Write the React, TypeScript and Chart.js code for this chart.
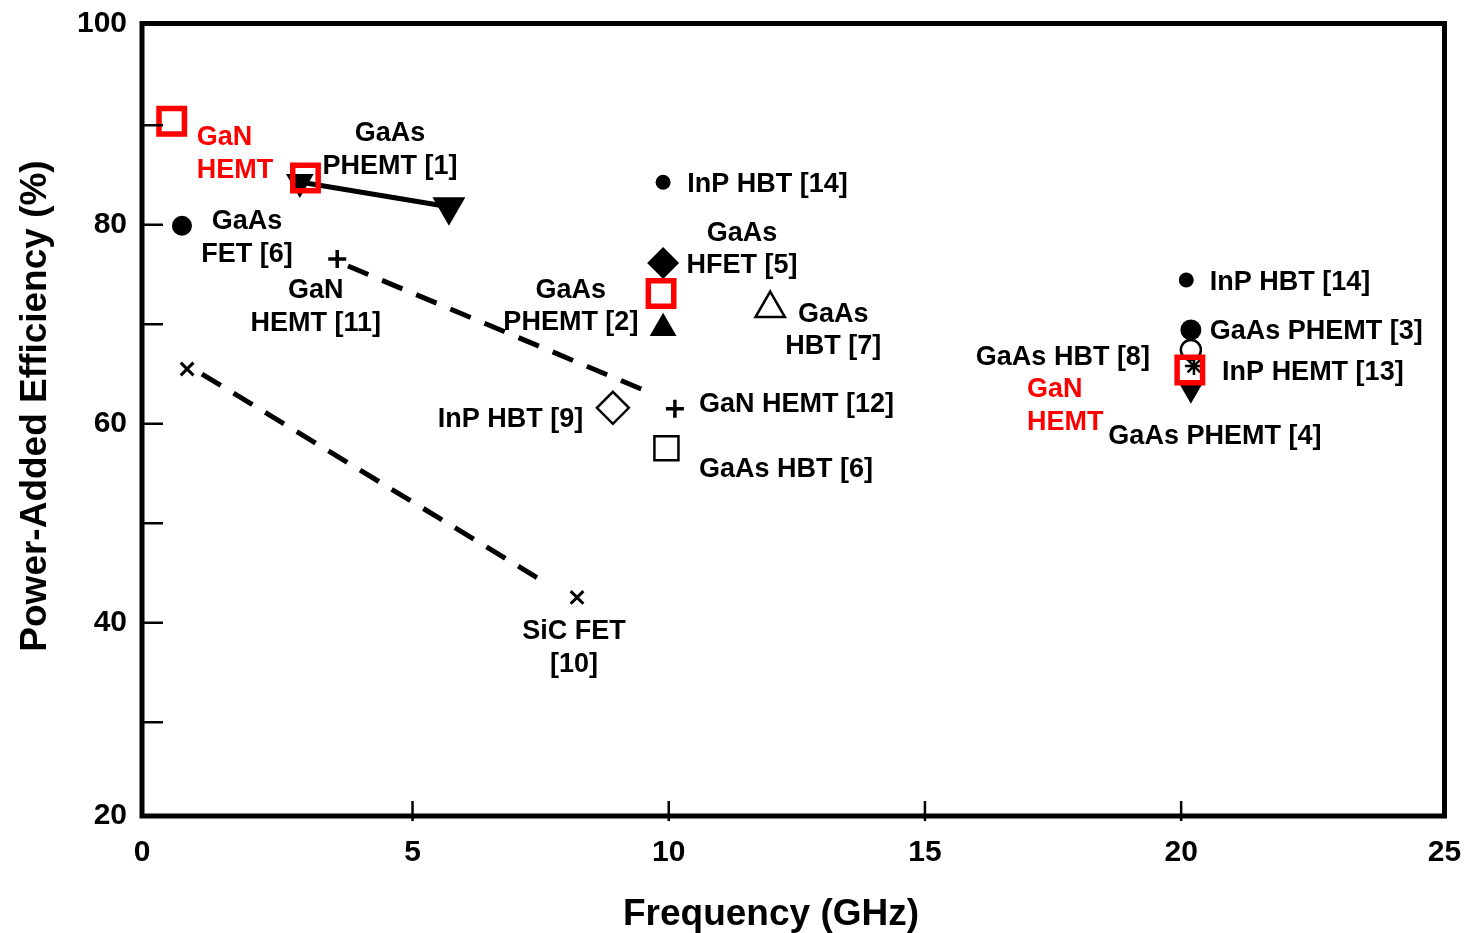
import { useEffect, useRef } from 'react';
import { Chart, registerables } from 'chart.js';

Chart.register(...registerables);

const FONT = '"Liberation Sans", Arial, Helvetica, sans-serif';
const RED = '#ff0000';
const BLACK = '#000000';

// Axis extents (frequency in GHz, efficiency in %)
const X_MIN = -0.28;
const X_MAX = 25.14;
const Y_MIN = 20.59;
const Y_MAX = 100.22;

// Tick marks and tick labels
const xTickMarks = [5, 10, 15, 20];
const yTickMarks = [30, 40, 50, 60, 70, 80, 90];
const xLabelValues = [X_MIN, 5, 10, 15, 20, X_MAX];
const xLabelTexts = ['0', '5', '10', '15', '20', '25'];
const yLabelValues = [Y_MIN, 40, 60, 80, Y_MAX];
const yLabelTexts = ['20', '40', '60', '80', '100'];

// GaN HEMT (this work)
const ganHemtFreq = [0.3, 2.91, 9.85, 20.17];
const ganHemtPae = [90.4, 84.7, 73.1, 65.4];

// Reference devices
const gaasPhemt1Freq = [2.8, 5.71];
const gaasPhemt1Pae = [84.3, 81.8];
const gaasFet6Freq = [0.5];
const gaasFet6Pae = [79.9];
const ganHemt11Freq = [3.53];
const ganHemt11Pae = [76.55];
const ganHemt12Freq = [10.12];
const ganHemt12Pae = [61.5];
const sicFet10Freq = [0.6, 8.21];
const sicFet10Pae = [65.5, 42.55];
const inpHbt14Freq = [9.89, 20.1];
const inpHbt14Pae = [84.27, 74.44];
const gaasHfet5Freq = [9.89];
const gaasHfet5Pae = [76.15];
const gaasPhemt2Freq = [9.89];
const gaasPhemt2Pae = [69.6];
const inpHbt9Freq = [8.91];
const inpHbt9Pae = [61.6];
const gaasHbt6Freq = [9.955];
const gaasHbt6Pae = [57.54];
const gaasHbt7Freq = [11.98];
const gaasHbt7Pae = [71.58];
const gaasPhemt3Freq = [20.19];
const gaasPhemt3Pae = [69.43];
const gaasHbt8Freq = [20.19];
const gaasHbt8Pae = [67.42];
const inpHemt13Freq = [20.25];
const inpHemt13Pae = [65.8];
const gaasPhemt4Freq = [20.19];
const gaasPhemt4Pae = [63.41];

// Dashed trend lines
const ganTrendFreq = [3.74, 9.55];
const ganTrendPae = [75.85, 63.3];
const sicTrendFreq = [0.89, 7.62];
const sicTrendPae = [65.0, 43.95];

// Text annotations, anchored in data units
type Note = { lines: string[]; x: number; y: number; align: CanvasTextAlign; color?: string };
const notes: Note[] = [
  { lines: ['GaN', 'HEMT'], x: 0.79, y: 88.98, align: 'left', color: RED },
  { lines: ['GaAs', 'PHEMT [1]'], x: 4.56, y: 89.38, align: 'center' },
  { lines: ['GaAs', 'FET [6]'], x: 1.77, y: 80.51, align: 'center' },
  { lines: ['GaN', 'HEMT [11]'], x: 3.11, y: 73.59, align: 'center' },
  { lines: ['InP HBT [14]'], x: 10.36, y: 84.27, align: 'left' },
  { lines: ['GaAs', 'HFET [5]'], x: 11.43, y: 79.36, align: 'center' },
  { lines: ['GaAs', 'PHEMT [2]'], x: 8.09, y: 73.64, align: 'center' },
  { lines: ['GaAs', 'HBT [7]'], x: 13.21, y: 71.23, align: 'center' },
  { lines: ['InP HBT [9]'], x: 8.33, y: 60.6, align: 'right' },
  { lines: ['GaN HEMT [12]'], x: 10.59, y: 62.11, align: 'left' },
  { lines: ['GaAs HBT [6]'], x: 10.59, y: 55.59, align: 'left' },
  { lines: ['SiC FET', '[10]'], x: 8.15, y: 39.34, align: 'center' },
  { lines: ['InP HBT [14]'], x: 20.56, y: 74.44, align: 'left' },
  { lines: ['GaAs PHEMT [3]'], x: 20.56, y: 69.48, align: 'left' },
  { lines: ['GaAs HBT [8]'], x: 19.39, y: 66.92, align: 'right' },
  { lines: ['InP HEMT [13]'], x: 20.8, y: 65.42, align: 'left' },
  { lines: ['GaN', 'HEMT'], x: 16.99, y: 63.66, align: 'left', color: RED },
  { lines: ['GaAs PHEMT [4]'], x: 18.58, y: 58.9, align: 'left' },
];

const pts = (xs: number[], ys: number[]) => xs.map((x, i) => ({ x, y: ys[i] }));

type MarkerStyle = {
  style: string;
  radius: number | number[];
  fill?: string;
  stroke?: string;
  width?: number;
  rotation?: number;
};

const markers = (label: string, xs: number[], ys: number[], m: MarkerStyle) => ({
  label,
  data: pts(xs, ys),
  showLine: false,
  pointStyle: m.style,
  pointRadius: m.radius,
  pointRotation: m.rotation ?? 0,
  pointBackgroundColor: m.fill ?? BLACK,
  pointBorderColor: m.stroke ?? BLACK,
  pointBorderWidth: m.width ?? 0,
});

const dashedLine = (label: string, xs: number[], ys: number[]) => ({
  label,
  data: pts(xs, ys),
  showLine: true,
  pointRadius: 0,
  borderColor: BLACK,
  borderWidth: 5,
  borderDash: [22, 15],
  borderCapStyle: 'butt',
  fill: false,
  tension: 0,
});

const datasets: any[] = [
  markers('GaN HEMT', ganHemtFreq, ganHemtPae, {
    style: 'rect', radius: 18, fill: 'rgba(0,0,0,0)', stroke: RED, width: 5.5,
  }),
  {
    ...markers('GaAs PHEMT [1]', gaasPhemt1Freq, gaasPhemt1Pae, {
      style: 'triangle', radius: [16, 19], rotation: 180,
    }),
    showLine: true,
    borderColor: BLACK,
    borderWidth: 5,
    tension: 0,
    fill: false,
  },
  markers('GaAs FET [6]', gaasFet6Freq, gaasFet6Pae, { style: 'circle', radius: 10 }),
  markers('GaN HEMT [11]', ganHemt11Freq, ganHemt11Pae, { style: 'cross', radius: 9, width: 3.5 }),
  markers('GaN HEMT [12]', ganHemt12Freq, ganHemt12Pae, { style: 'cross', radius: 9, width: 3.5 }),
  markers('SiC FET [10]', sicFet10Freq, sicFet10Pae, { style: 'crossRot', radius: 9, width: 3 }),
  markers('InP HBT [14]', inpHbt14Freq, inpHbt14Pae, { style: 'circle', radius: 7.5 }),
  markers('GaAs HFET [5]', gaasHfet5Freq, gaasHfet5Pae, { style: 'rectRot', radius: 16 }),
  markers('GaAs PHEMT [2]', gaasPhemt2Freq, gaasPhemt2Pae, { style: 'triangle', radius: 15.5 }),
  markers('InP HBT [9]', inpHbt9Freq, inpHbt9Pae, {
    style: 'rectRot', radius: 16, fill: '#ffffff', width: 2.5,
  }),
  markers('GaAs HBT [6]', gaasHbt6Freq, gaasHbt6Pae, {
    style: 'rect', radius: 17, fill: '#ffffff', width: 2.5,
  }),
  markers('GaAs HBT [7]', gaasHbt7Freq, gaasHbt7Pae, {
    style: 'triangle', radius: 17, fill: '#ffffff', width: 2.5,
  }),
  markers('GaAs PHEMT [3]', gaasPhemt3Freq, gaasPhemt3Pae, { style: 'circle', radius: 10.5 }),
  markers('GaAs HBT [8]', gaasHbt8Freq, gaasHbt8Pae, {
    style: 'circle', radius: 10, fill: '#ffffff', width: 2.5,
  }),
  markers('InP HEMT [13]', inpHemt13Freq, inpHemt13Pae, { style: 'star', radius: 9, width: 2.5 }),
  markers('GaAs PHEMT [4]', gaasPhemt4Freq, gaasPhemt4Pae, {
    style: 'triangle', radius: 14, rotation: 180,
  }),
  dashedLine('GaN HEMT trend', ganTrendFreq, ganTrendPae),
  dashedLine('SiC FET trend', sicTrendFreq, sicTrendPae),
];

// Frame, inward tick marks, axis titles and point annotations
const decorations = {
  id: 'decorations',
  afterDatasetsDraw(chart: any) {
    const { ctx, chartArea: a, scales } = chart;
    const xs = scales.x;
    const ys = scales.y;
    ctx.save();
    ctx.strokeStyle = BLACK;
    ctx.lineCap = 'butt';

    ctx.lineWidth = 2.5;
    ctx.beginPath();
    xTickMarks.forEach((v) => {
      const px = xs.getPixelForValue(v);
      ctx.moveTo(px, a.bottom + 5);
      ctx.lineTo(px, a.bottom - 15);
    });
    yTickMarks.forEach((v) => {
      const py = ys.getPixelForValue(v);
      ctx.moveTo(a.left, py);
      ctx.lineTo(a.left + 21, py);
    });
    ctx.stroke();

    ctx.lineWidth = 5;
    ctx.lineJoin = 'miter';
    ctx.strokeRect(a.left, a.top, a.right - a.left, a.bottom - a.top);

    const size = 27;
    ctx.font = `bold ${size}px ${FONT}`;
    ctx.textBaseline = 'alphabetic';
    notes.forEach((n) => {
      const px = xs.getPixelForValue(n.x);
      const py = ys.getPixelForValue(n.y);
      ctx.fillStyle = n.color ?? BLACK;
      ctx.textAlign = n.align;
      n.lines.forEach((t, i) => {
        ctx.fillText(t, px, py + i * 32.5 + size * 0.358);
      });
    });

    const tsize = 37;
    ctx.fillStyle = BLACK;
    ctx.font = `bold ${tsize}px ${FONT}`;
    ctx.textAlign = 'center';
    ctx.fillText('Frequency (GHz)', 771, 912 + tsize * 0.358);

    ctx.translate(33, 406);
    ctx.rotate(-Math.PI / 2);
    ctx.fillText('Power-Added Efficiency (%)', 0, tsize * 0.358);
    ctx.restore();
  },
};

const tickFont = { family: FONT, size: 30, weight: 'bold' as const };

export default function App() {
  const ref = useRef<HTMLCanvasElement>(null);

  useEffect(() => {
    if (!ref.current) return;
    const chart = new Chart(ref.current, {
      type: 'scatter',
      data: { datasets },
      options: {
        animation: false,
        responsive: false,
        devicePixelRatio: 1,
        events: [],
        layout: { padding: { top: 22, right: 29.5, left: 0, bottom: 0 } },
        plugins: { legend: { display: false }, tooltip: { enabled: false } },
        scales: {
          x: {
            type: 'linear',
            min: X_MIN,
            max: X_MAX,
            grid: { display: false, drawTicks: false },
            border: { display: false },
            afterBuildTicks: (s: any) => {
              s.ticks = xLabelValues.map((value) => ({ value }));
            },
            afterFit: (s: any) => {
              s.height = 117;
              s.paddingLeft = 0;
              s.paddingRight = 0;
              s.paddingTop = 0;
              s.paddingBottom = 0;
            },
            ticks: {
              autoSkip: false,
              maxRotation: 0,
              padding: 19,
              color: BLACK,
              font: tickFont,
              callback: (v: any) => xLabelTexts[xLabelValues.indexOf(Number(v))] ?? '',
            },
          },
          y: {
            type: 'linear',
            min: Y_MIN,
            max: Y_MAX,
            grid: { display: false, drawTicks: false },
            border: { display: false },
            afterBuildTicks: (s: any) => {
              s.ticks = yLabelValues.map((value) => ({ value }));
            },
            afterFit: (s: any) => {
              s.width = 142;
              s.paddingLeft = 0;
              s.paddingRight = 0;
              s.paddingTop = 0;
              s.paddingBottom = 0;
            },
            ticks: {
              autoSkip: false,
              padding: 15,
              color: BLACK,
              font: tickFont,
              callback: (v: any) => yLabelTexts[yLabelValues.indexOf(Number(v))] ?? '',
            },
          },
        },
      },
      plugins: [decorations],
    } as any);
    return () => chart.destroy();
  }, []);

  return (
    <div style={{ position: 'absolute', left: 0, top: 0, width: 1474, height: 933, background: '#ffffff' }}>
      <canvas ref={ref} width={1474} height={933} style={{ display: 'block', width: 1474, height: 933 }} />
    </div>
  );
}
